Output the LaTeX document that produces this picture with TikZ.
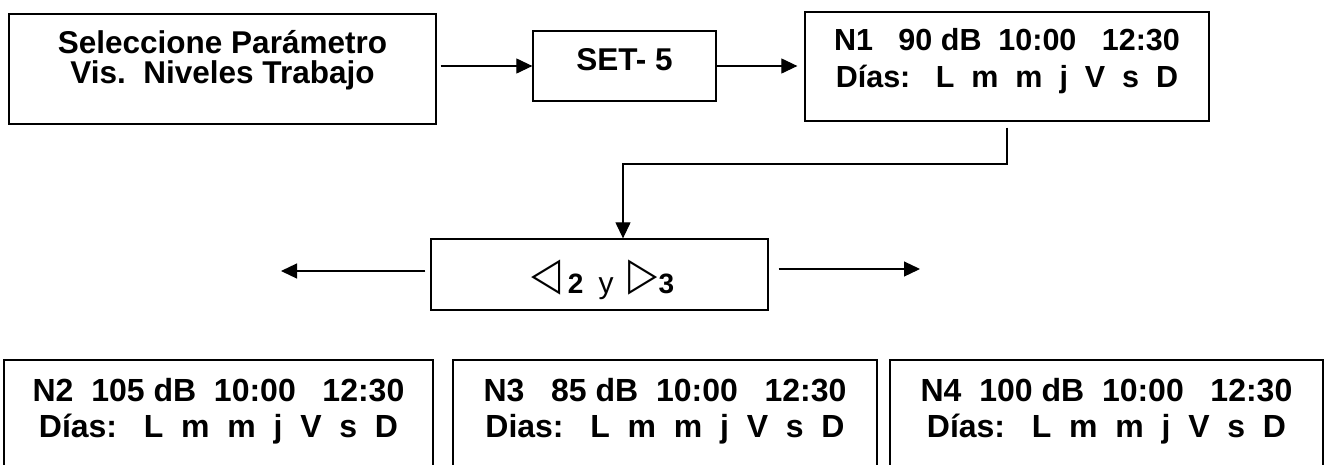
\documentclass[tikz,border=0pt]{standalone}
\usepackage{fontspec}
\usepackage{graphicx}
\setmainfont{Liberation Sans}
\newfontfamily\symfont{DejaVu Sans}
\usetikzlibrary{arrows.meta}

\newcommand\navtri[1]{\raisebox{3.5pt}{\scalebox{0.95}[1.15]{\symfont\fontsize{40}{40}\selectfont #1}}}

\begin{document}
\begin{tikzpicture}[x=1pt,y=1pt,line join=miter,>={Triangle[length=16pt,width=15pt]},
	box/.style={draw,line width=1.3pt,rectangle,inner sep=0pt},
	txt/.style={align=center,inner sep=0pt,font=\bfseries\fontsize{30.5}{37}\selectfont},
	arr/.style={->,line width=1.2pt}]
	\useasboundingbox (0,0) rectangle (1330,-464);
	\clip (0,0) rectangle (1330,-464);
	% upper row
	\node[box,minimum width=427,minimum height=110] (sel) at (222.5,-69) {};
	\node[txt,font=\bfseries\fontsize{31.5}{30}\selectfont,yshift=9] (selt) at (sel) {Seleccione Parámetro\\Vis.~~Niveles Trabajo};
	\node[box,minimum width=183,minimum height=70] (set) at (624.5,-66) {};
	\node[txt,font=\bfseries\fontsize{31.5}{31}\selectfont,yshift=6] (sett) at (set) {SET- 5};
	\node[box,minimum width=404,minimum height=109] (n1) at (1007,-66.5) {};
	\node[txt,yshift=5.6] (n1t) at (n1) {N1~~~90~dB~~10:00~~~12:30\\Días:~~~L~~m~~m~~j~~V~~s~~D};
	\draw[arr] (sel.east |- set.west) ++(4,0) -- (set.west);
	\draw[arr,shorten >=7pt] (set.east) -- (set.east -| n1.west);
	% navigation
	\node[box,minimum width=337,minimum height=71] (nav) at (599.5,-274.5) {};
	\node[inner sep=0pt,anchor=base,xshift=3.5,yshift=-18.5] (navt) at (nav) {\navtri{◁}\kern7pt{\bfseries\fontsize{28}{28}\selectfont 2}\kern15pt{\fontsize{30}{30}\selectfont y}\kern15pt\navtri{▷}\kern1pt{\bfseries\fontsize{28}{28}\selectfont 3}};
	\coordinate (bend) at (623,-164);
	\draw[arr] ([yshift=-6pt]n1.south) |- (bend) -- (bend |- nav.north);
	\coordinate (lft) at (281,-271);
	\coordinate (rgt) at (920,-269);
	\draw[arr] (nav.west |- lft) ++(-5,0) -- (lft);
	\draw[arr] (nav.east |- rgt) ++(10,0) -- (rgt);
	% lower row
	\node[box,minimum width=429,minimum height=115] (n2) at (218.5,-417.5) {};
	\node[txt,font=\bfseries\fontsize{32}{36}\selectfont,yshift=6.6] (n2t) at (n2) {N2~~105~dB~~10:00~~~12:30\\Días:~~~L~~m~~m~~j~~V~~s~~D};
	\node[box,minimum width=424,minimum height=115] (n3) at (665,-417.5) {};
	\node[txt,font=\bfseries\fontsize{32}{36}\selectfont,yshift=6.6] (n3t) at (n3) {N3~~~85~dB~~10:00~~~12:30\\Dias:~~~L~~m~~m~~j~~V~~s~~D};
	\node[box,minimum width=433,minimum height=115] (n4) at (1106.5,-417.5) {};
	\node[txt,font=\bfseries\fontsize{32}{36}\selectfont,yshift=6.6] (n4t) at (n4) {N4~~100~dB~~10:00~~~12:30\\Días:~~~L~~m~~m~~j~~V~~s~~D};
\end{tikzpicture}
\end{document}
